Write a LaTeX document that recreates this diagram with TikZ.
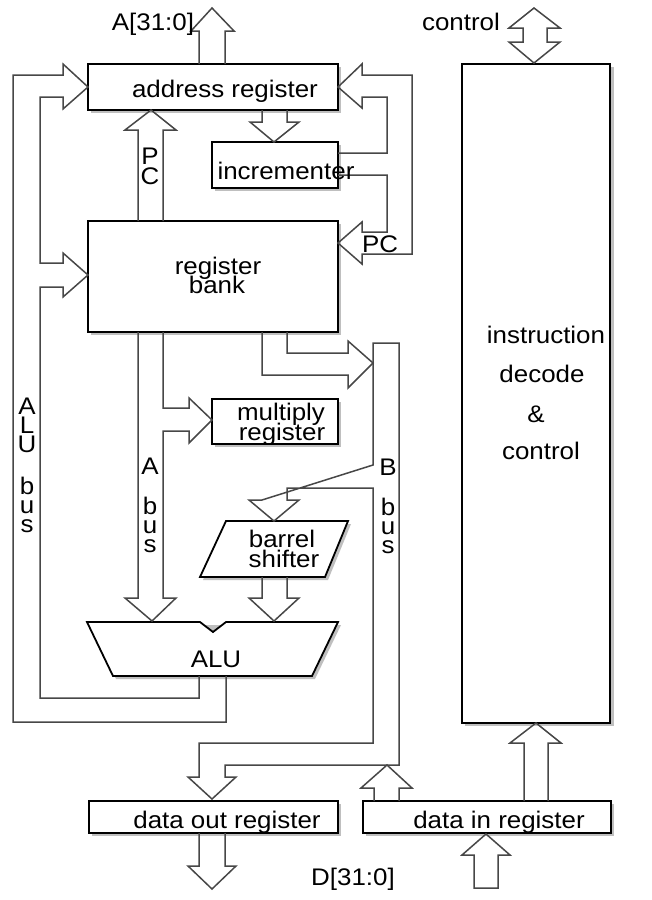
\documentclass[tikz,border=0pt]{standalone}
\usepackage{fontspec}
\setmainfont{Liberation Sans}[FakeStretch=1.08]
\begin{document}
\begin{tikzpicture}[x=1pt,y=-1pt,
  bus/.style={draw=black!72, line width=1.5pt, line join=miter},
  box/.style={draw=black, line width=1.8pt, fill=white, inner sep=0pt},
  polybox/.style={draw=black, line width=1.8pt, fill=white},
  shade/.style={fill=gray!50},
  lbl/.style={font=\fontsize{24}{19}\selectfont, inner sep=0pt, anchor=base, text=black},
  vlbl/.style={font=\fontsize{24}{19}\selectfont, inner sep=0pt, anchor=north, align=center, text=black}]
\useasboundingbox (0,0) rectangle (652,900);
\fill[white] (0,0) rectangle (652,900);

% ---------- shadows ----------
\fill[shade] (91,67) rectangle (341,113);
\fill[shade] (215,145) rectangle (341,191);
\fill[shade] (91,224) rectangle (341,335);
\fill[shade] (215,402) rectangle (341,447);
\fill[shade] (465,67) rectangle (614,726);
\fill[shade] (92,804) rectangle (341,836);
\fill[shade] (366,804) rectangle (614,836);
\fill[shade] (229,524) -- (351,524) -- (328,580) -- (203,580) -- cycle;
\fill[shade] (90,625) -- (341,625) -- (315,679) -- (116,679) -- cycle;

% ---------- boxes ----------
\node[box, minimum width=250pt, minimum height=46pt] (addr) at (213,87) {};
\node[box, minimum width=126pt, minimum height=46pt] (incr) at (275,165) {};
\node[box, minimum width=250pt, minimum height=111pt] (bank) at (213,276.5) {};
\node[box, minimum width=126pt, minimum height=45pt] (mult) at (275,421.5) {};
\node[box, minimum width=148pt, minimum height=659pt] (idc) at (536,393.5) {};
\node[box, minimum width=249pt, minimum height=32pt] (dout) at (213.5,817) {};
\node[box, minimum width=248pt, minimum height=32pt] (din) at (487,817) {};
% barrel shifter
\filldraw[polybox] (226,521) -- (348,521) -- (325,577) -- (200,577) -- cycle;
\coordinate (barrel) at (274,549);
% ALU
\filldraw[polybox] (87,622) -- (200,622) -- (213,632) -- (226,622) -- (338,622) -- (312,676) -- (113,676) -- cycle;
\coordinate (alu) at (213,649);

% ---------- buses and hollow arrows ----------
% A[31:0] out of address register
\draw[bus] (199,64) -- (199,31) -- (191,31) -- (212,8) -- (234,31) -- (225,31) -- (225,64);
% ALU bus loops (left)
\draw[bus] (226,676) -- (226,722) -- (13,722) -- (13,75) -- (63,75) -- (63,64) -- (88,87) -- (63,109) -- (63,97)
  -- (40,97) -- (40,263) -- (63,263) -- (63,253) -- (88,275) -- (63,297) -- (63,287) -- (40,287) -- (40,698)
  -- (199,698) -- (199,676);
% PC to address register
\draw[bus] (138,221) -- (138,130) -- (125,130) -- (151,110) -- (176,130) -- (163,130) -- (163,221);
% address register to incrementer
\draw[bus] (262,110) -- (262,122) -- (250,122) -- (274,142) -- (299,122) -- (287,122) -- (287,110);
% right side: incrementer loops
\draw[bus] (338,153) -- (387,153) -- (387,97) -- (362,97) -- (362,108) -- (338,87) -- (362,64) -- (362,75)
  -- (412,75) -- (412,254) -- (362,254) -- (362,264) -- (338,243) -- (362,222) -- (362,232) -- (387,232)
  -- (387,175) -- (338,175);
% register bank to B bus
\draw[bus] (262,332) -- (262,375) -- (348,375) -- (348,388) -- (373,363) -- (348,341) -- (348,353) -- (287,353) -- (287,332);
% B bus, barrel shifter input, data out register input
\draw[bus] (373,465) -- (373,343) -- (399,343) -- (399,765) -- (225,765) -- (225,777) -- (236,777) -- (212,799)
  -- (188,777) -- (199,777) -- (199,743) -- (373,743) -- (373,488) -- (287,488) -- (287,500) -- (299,500)
  -- (274,521) -- (249,500) -- (262,500) -- cycle;
% data in register to B bus
\draw[bus] (374,801) -- (374,788) -- (361,788) -- (387,765) -- (412,788) -- (399,788) -- (399,801);
% A bus to ALU and multiply register
\draw[bus] (138,332) -- (138,598) -- (125,598) -- (152,621) -- (176,598) -- (163,598) -- (163,431) -- (189,431)
  -- (189,443) -- (212,420) -- (189,398) -- (189,408) -- (163,408) -- (163,332);
% barrel shifter to ALU
\draw[bus] (262,577) -- (262,598) -- (249,598) -- (274,621) -- (299,598) -- (287,598) -- (287,577);
% data out register down
\draw[bus] (199,833) -- (199,866) -- (188,866) -- (212,889) -- (236,866) -- (225,866) -- (225,833);
% into data in register
\draw[bus] (474,888) -- (474,855) -- (462,855) -- (486,834) -- (510,855) -- (498,855) -- (498,888) -- cycle;
% data in register to instruction decode
\draw[bus] (524,801) -- (524,743) -- (510,743) -- (536,723) -- (561,743) -- (548,743) -- (548,801);
% control double arrow
\draw[bus] (534,8) -- (509,28) -- (523,28) -- (523,42) -- (509,42) -- (534,63) -- (560,42) -- (547,42)
  -- (547,28) -- (560,28) -- cycle;

% ---------- texts ----------
\node[lbl] (tA) at (153,30) {A[31:0]};
\node[lbl] (tctl) at (461,30) {control};
\node[lbl] (taddr) at (225,97) {address register};
\node[lbl] (tincr) at (286,179) {incrementer};
\node[lbl] (tbank1) at (218,274) {register};
\node[lbl] (tbank2) at (217,293) {bank};
\node[lbl] (tmult1) at (281,420) {multiply};
\node[lbl] (tmult2) at (282,440) {register};
\node[lbl] (tbs1) at (282,547) {barrel};
\node[lbl] (tbs2) at (284,567) {shifter};
\node[lbl] (talu) at (216,667) {ALU};
\node[lbl] (tid1) at (546,343) {instruction};
\node[lbl] (tid2) at (542,382) {decode};
\node[lbl] (tid3) at (536,422) {\&};
\node[lbl] (tid4) at (541,459) {control};
\node[lbl] (tdout) at (227,828) {data out register};
\node[lbl] (tdin) at (499,828) {data in register};
\node[lbl] (tD) at (353,885) {D[31:0]};
\node[lbl] (tpcr) at (380,252) {PC};
\node[vlbl, font=\fontsize{24}{20}\selectfont] (tpc) at (150,148) {P\\C};
\node[vlbl, font=\fontsize{24}{18.7}\selectfont] (talubus) at (27,398) {A\\L\\U\\[24pt]b\\u\\s};
\node[vlbl] (tabus) at (150,458) {A\\[21pt]b\\u\\s};
\node[vlbl] (tbbus) at (388,459) {B\\[21pt]b\\u\\s};
\end{tikzpicture}
\end{document}
